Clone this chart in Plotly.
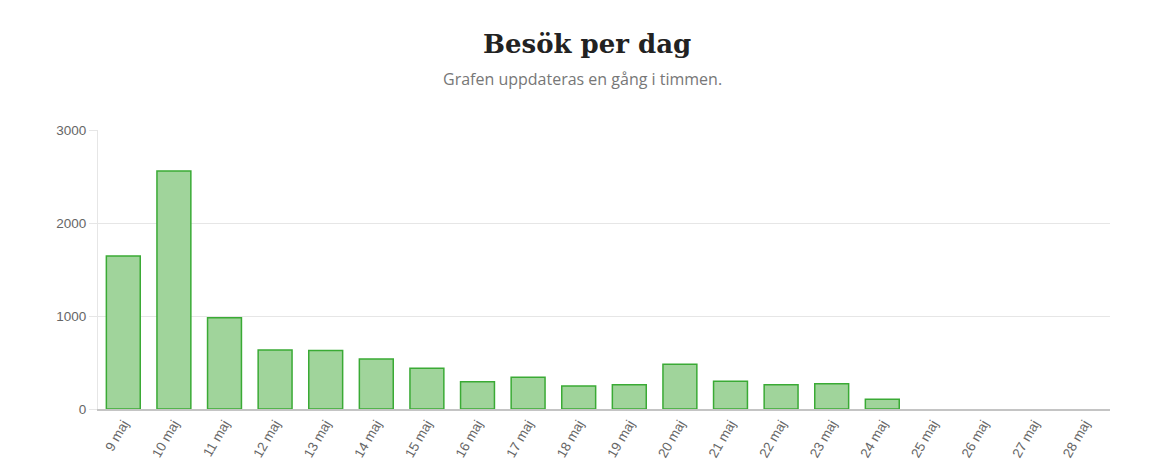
import plotly.graph_objects as go

days = ["9 maj", "10 maj", "11 maj", "12 maj", "13 maj", "14 maj", "15 maj", "16 maj",
        "17 maj", "18 maj", "19 maj", "20 maj", "21 maj", "22 maj", "23 maj", "24 maj",
        "25 maj", "26 maj", "27 maj", "28 maj"]
visits = [1645, 2560, 980, 634, 630, 537, 437, 294, 341, 247, 261, 480, 298, 261, 272, 104,
          0, 0, 0, 0]
y_ticks = [0, 1000, 2000, 3000]

W, H = 1166, 474
ML, MR, MT, MB = 90, 64, 122, 73

fig = go.Figure(go.Bar(
    x=days, y=visits,
    marker=dict(color="#a0d49b",
                line=dict(color="#3aaa35", width=[1.5 if v > 0 else 0 for v in visits])),
    hoverinfo="x+y",
))

fig.update_layout(
    width=W, height=H,
    paper_bgcolor="white", plot_bgcolor="white",
    margin=dict(l=ML, r=MR, t=MT, b=MB),
    bargap=0.33,
    showlegend=False,
)

plot_h = H - MT - MB
plot_w = W - ML - MR
def ypix(p):
    return (H - MB - p) / plot_h
def xpix(p):
    return (p - ML) / plot_w

fig.add_annotation(text="<b>Besök per dag</b>", x=xpix(579), xref="paper",
                   y=ypix(36), yref="paper", showarrow=False, yanchor="middle",
                   font=dict(family="DejaVu Serif", size=26, color="#222"))
fig.add_annotation(text="Grafen uppdateras en gång i timmen.", x=xpix(574), xref="paper",
                   y=ypix(71), yref="paper", showarrow=False, yanchor="middle",
                   font=dict(family="Open Sans", size=16, color="#777"))

fig.update_xaxes(
    tickangle=-60, ticks="", showgrid=False,
    showline=True, linecolor="#c4c4c4", linewidth=1.5,
    tickfont=dict(family="Liberation Sans", size=13.5, color="#666"),
    fixedrange=True,
)
fig.update_yaxes(
    range=[0, 3000], tickvals=y_ticks, ticks="outside", ticklen=8, tickcolor="#e6e6e6",
    showgrid=True, gridcolor="#e6e6e6", gridwidth=1,
    showline=True, linecolor="#e6e6e6", linewidth=1,
    zeroline=False,
    tickfont=dict(family="Liberation Sans", size=13.5, color="#666"),
    fixedrange=True,
)

fig.write_html("out.html")
